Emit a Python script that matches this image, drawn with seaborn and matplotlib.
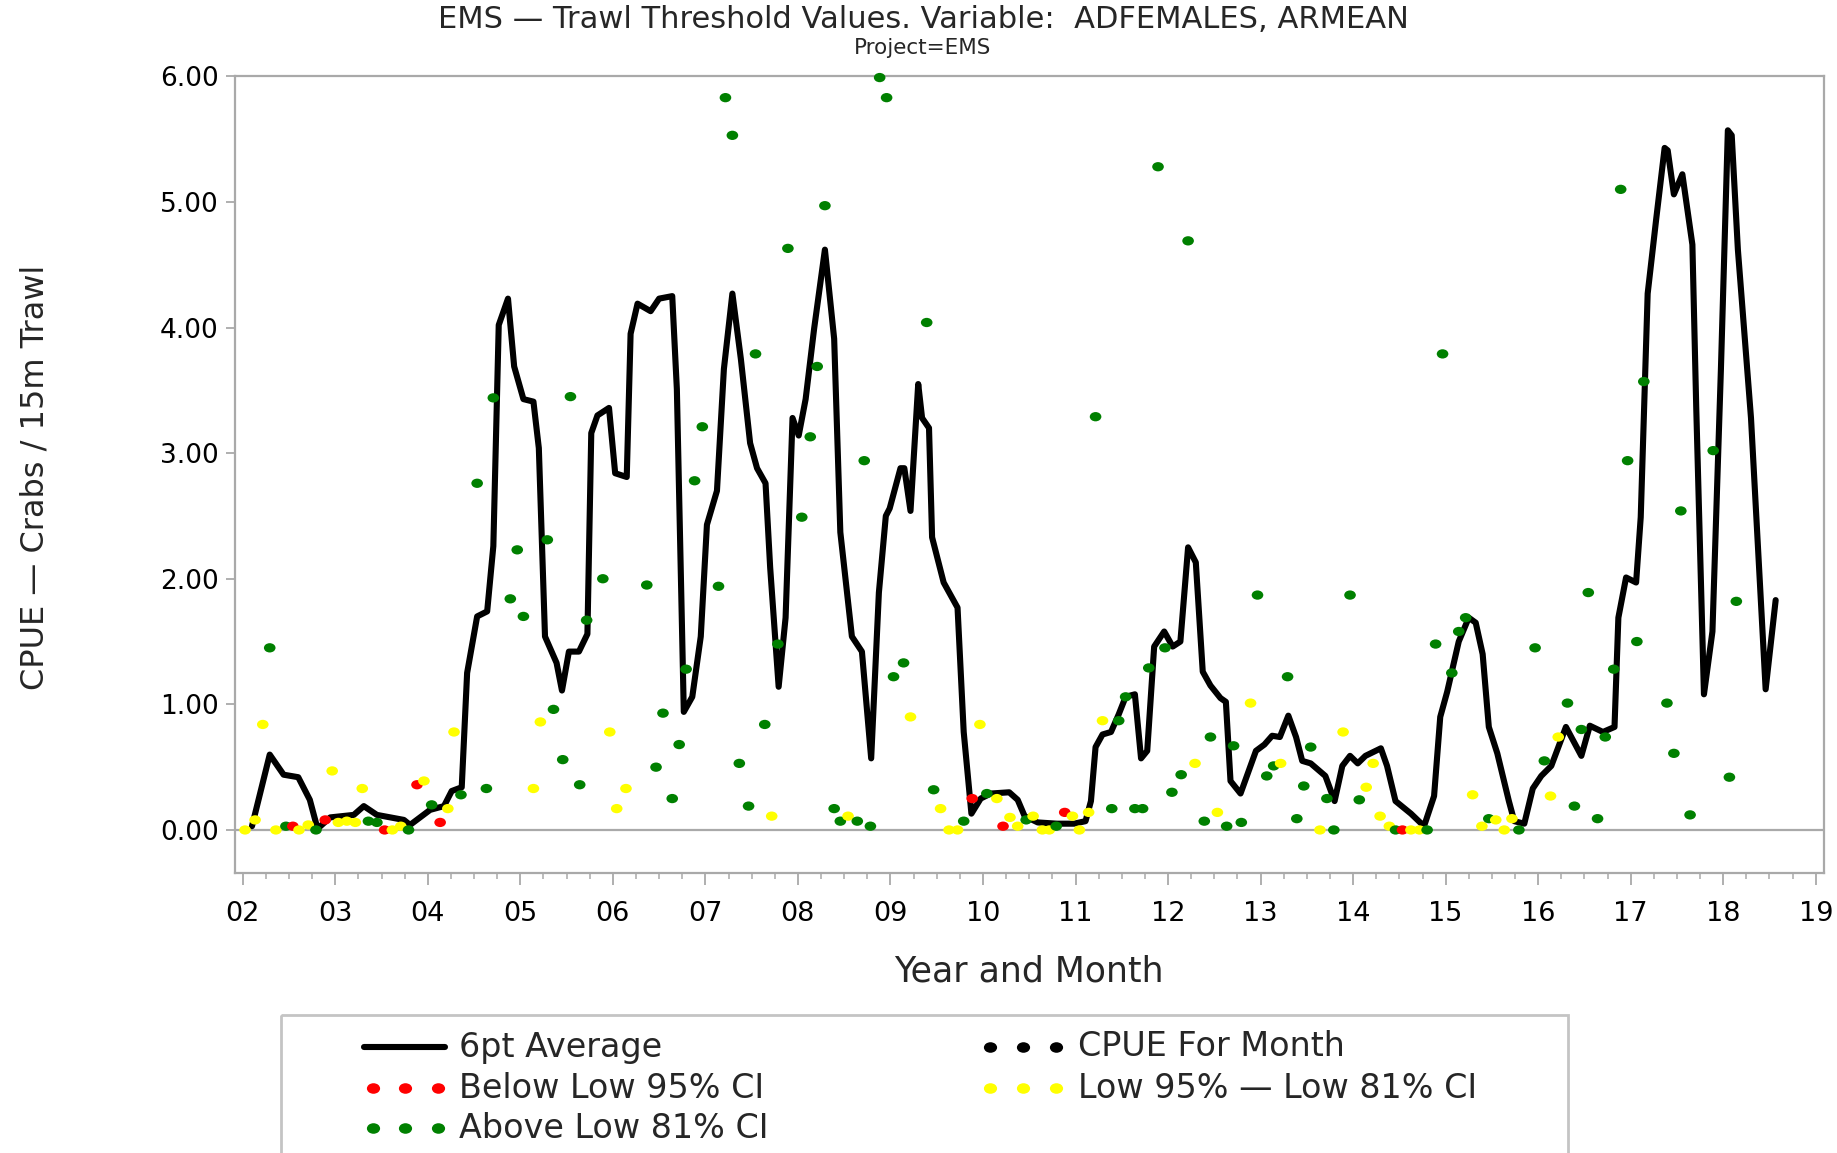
import numpy as np
import pandas as pd
import matplotlib
matplotlib.use("Agg")
import matplotlib.pyplot as plt
import seaborn as sns
from matplotlib.path import Path
from matplotlib.transforms import Affine2D
from matplotlib.patches import Rectangle
from matplotlib.ticker import MultipleLocator, FuncFormatter

sns.set_style("ticks")
plt.rcParams["font.family"] = ["DejaVu Sans"]

# ---- 6-point running average (months since Jan 2002, CPUE) ----
line_month = [1.2, 3.5, 5.3, 7.2, 8.7, 9.7, 11.35, 14.4, 15.7, 17.4, 20.9, 21.7,
              24.3, 26.1, 27.1, 28.4, 29.1, 30.4, 31.7, 32.5, 33.2, 34.4, 35.2,
              36.4, 37.7, 38.4, 39.2, 40.7, 41.4, 42.3, 43.6, 44.7, 45.2, 46.0,
              47.5, 48.3, 49.8, 50.3, 51.2, 52.9, 54.0, 55.7, 56.3, 57.2, 58.3,
              59.4, 60.2, 61.5, 62.4, 63.5, 64.6, 65.8, 66.7, 67.8, 68.4, 69.5,
              70.4, 71.3, 72.1, 73.0, 74.1, 75.5, 76.7, 77.5, 79.0, 80.3, 81.5,
              82.5, 83.4, 83.9, 85.3, 85.8, 86.6, 87.6, 88.1, 89.0, 89.4, 90.9,
              91.8, 92.7, 93.5, 94.5, 95.7, 97.0, 99.4, 100.5, 101.4, 103.1,
              105.6, 107.8, 109.3, 110.0, 110.6, 111.5, 112.6, 113.6, 114.5,
              115.7, 116.5, 117.3, 118.2, 119.5, 120.6, 121.6, 122.6, 123.6,
              124.5, 125.5, 126.8, 127.5, 128.1, 129.4, 131.4, 132.5, 133.5,
              134.5, 135.6, 136.6, 137.4, 138.5, 140.4, 141.6, 142.6, 143.6,
              144.6, 145.6, 147.6, 148.4, 149.5, 151.5, 153.2, 154.5, 155.3,
              156.2, 157.7, 159.0, 159.9, 160.8, 161.6, 162.7, 164.2, 164.9,
              166.2, 167.3, 168.4, 169.7, 171.6, 173.6, 174.7, 176.4, 177.9,
              178.4, 179.4, 180.7, 181.3, 182.2, 183.3, 184.4, 184.8, 185.6,
              186.7, 188.0, 188.5, 189.5, 190.6, 191.7, 192.6, 193.1, 193.9,
              195.6, 197.5, 198.8]
line_cpue = [0.03, 0.60, 0.44, 0.42, 0.24, 0.01, 0.10, 0.12, 0.19, 0.12, 0.08, 0.04,
             0.16, 0.19, 0.31, 0.34, 1.25, 1.70, 1.74, 2.26, 4.02, 4.23, 3.69,
             3.43, 3.41, 3.04, 1.54, 1.33, 1.11, 1.42, 1.42, 1.56, 3.16, 3.30,
             3.36, 2.84, 2.81, 3.95, 4.19, 4.13, 4.23, 4.25, 3.51, 0.94, 1.06,
             1.54, 2.43, 2.70, 3.67, 4.27, 3.75, 3.08, 2.88, 2.76, 2.09, 1.14,
             1.69, 3.28, 3.14, 3.43, 3.99, 4.62, 3.91, 2.37, 1.54, 1.42, 0.57,
             1.89, 2.50, 2.56, 2.88, 2.88, 2.54, 3.55, 3.28, 3.20, 2.33, 1.97,
             1.87, 1.77, 0.78, 0.13, 0.25, 0.29, 0.30, 0.24, 0.11, 0.06,
             0.05, 0.05, 0.07, 0.23, 0.66, 0.76, 0.78, 0.92, 1.06,
             1.08, 0.57, 0.63, 1.46, 1.58, 1.46, 1.50, 2.25, 2.13,
             1.26, 1.15, 1.05, 1.02, 0.39, 0.29, 0.63, 0.68, 0.75,
             0.74, 0.91, 0.74, 0.55, 0.53, 0.43, 0.23, 0.51, 0.59,
             0.53, 0.59, 0.65, 0.51, 0.23, 0.13, 0.03, 0.27, 0.90,
             1.10, 1.50, 1.69, 1.65, 1.40, 0.82, 0.61, 0.23, 0.07,
             0.05, 0.33, 0.43, 0.51, 0.82, 0.59, 0.83, 0.78, 0.82,
             1.69, 2.01, 1.97, 2.49, 4.27, 4.86, 5.43, 5.41, 5.06,
             5.22, 4.66, 3.36, 1.08, 1.58, 3.67, 5.57, 5.53, 4.62,
             3.28, 1.12, 1.83]

# ---- monthly CPUE, split by where it falls against the threshold limits ----
# below the low 95% CI
below95_month = [6.5, 10.7, 18.4, 22.6, 25.6, 94.6, 98.6, 106.6, 150.4]
below95_cpue = [0.03, 0.08, 0.00, 0.36, 0.06, 0.25, 0.03, 0.14, 0.00]

# between the low 95% and low 81% CI
between_month = [0.3, 1.6, 2.6, 4.3, 7.3, 8.5, 11.6, 12.4, 13.5, 14.6, 15.5,
                 19.4, 20.5, 23.5, 26.6, 27.4, 37.7, 38.6, 47.6, 48.5, 49.7,
                 68.6, 78.5, 86.6, 90.5, 91.6, 92.7, 95.6, 97.8, 99.5, 100.5,
                 102.5, 103.7, 104.6, 107.6, 108.5, 109.7, 111.5, 123.5, 126.4,
                 130.7, 134.6, 139.7, 142.7, 145.7, 146.6, 147.5, 148.7, 151.5,
                 152.6, 159.5, 160.7, 162.5, 163.6, 164.6, 169.6, 170.6]
between_cpue = [0.00, 0.08, 0.84, 0.00, 0.00, 0.04, 0.47, 0.06, 0.07, 0.06, 0.33,
                0.00, 0.03, 0.39, 0.17, 0.78, 0.33, 0.86, 0.78, 0.17, 0.33,
                0.11, 0.11, 0.90, 0.17, 0.00, 0.00, 0.84, 0.25, 0.10, 0.03,
                0.11, 0.00, 0.00, 0.11, 0.00, 0.14, 0.87, 0.53, 0.14,
                1.01, 0.53, 0.00, 0.78, 0.34, 0.53, 0.11, 0.03, 0.00,
                0.00, 0.28, 0.03, 0.08, 0.00, 0.09, 0.27, 0.74]

# above the low 81% CI
above81_month = [3.5, 5.6, 9.5, 16.3, 17.4, 21.5, 24.5, 28.3, 30.4, 31.6, 32.5,
                 34.7, 35.6, 36.4, 39.5, 40.3, 41.5, 42.5, 43.7, 44.6, 46.7,
                 52.4, 53.6, 54.5, 55.7, 56.6, 57.5, 58.6, 59.6, 61.7, 62.6,
                 63.5, 64.4, 65.6, 66.5, 67.7, 69.4, 70.7, 72.5, 73.6, 74.5,
                 75.5, 76.7, 77.5, 79.7, 80.6, 81.4, 82.6, 83.5, 84.4, 85.7,
                 88.7, 89.6, 93.5, 96.5, 101.6, 105.5, 110.6, 112.7, 113.6,
                 114.5, 115.7, 116.7, 117.5, 118.7, 119.6, 120.5, 121.7, 122.6,
                 124.7, 125.5, 127.6, 128.5, 129.5, 131.6, 132.8, 133.7, 135.5,
                 136.7, 137.6, 138.5, 140.6, 141.5, 143.6, 144.8, 149.5, 153.6,
                 154.7, 155.6, 156.8, 157.7, 158.6, 161.6, 165.5, 167.6, 168.8,
                 171.8, 172.7, 173.6, 174.5, 175.7, 176.7, 177.8, 178.7, 179.6,
                 180.8, 181.7, 184.7, 185.6, 186.5, 187.7, 190.7, 192.8, 193.7]
above81_cpue = [1.45, 0.03, 0.00, 0.07, 0.06, 0.00, 0.20, 0.28, 2.76, 0.33, 3.44,
                1.84, 2.23, 1.70, 2.31, 0.96, 0.56, 3.45, 0.36, 1.67, 2.00,
                1.95, 0.50, 0.93, 0.25, 0.68, 1.28, 2.78, 3.21, 1.94, 5.83,
                5.53, 0.53, 0.19, 3.79, 0.84, 1.48, 4.63, 2.49, 3.13, 3.69,
                4.97, 0.17, 0.07, 0.07, 2.94, 0.03, 5.99, 5.83, 1.22, 1.33,
                4.04, 0.32, 0.07, 0.29, 0.08, 0.03, 3.29, 0.17, 0.87,
                1.06, 0.17, 0.17, 1.29, 5.28, 1.45, 0.30, 0.44, 4.69,
                0.07, 0.74, 0.03, 0.67, 0.06, 1.87, 0.43, 0.51, 1.22,
                0.09, 0.35, 0.66, 0.25, 0.00, 1.87, 0.24, 0.00, 0.00,
                1.48, 3.79, 1.25, 1.58, 1.69, 0.09, 0.00, 1.45, 0.55,
                1.01, 0.19, 0.80, 1.89, 0.09, 0.74, 1.28, 5.10, 2.94,
                1.50, 3.57, 1.01, 0.61, 2.54, 0.12, 3.02, 0.42, 1.82]

year_ticks = list(range(2002, 2020))
year_labels = [f"{y % 100:02d}" for y in year_ticks]
cpue_ticks = [0, 1, 2, 3, 4, 5, 6]

LBL_BELOW = "Below Low 95% CI"
LBL_BETWEEN = "Low 95% \u2014 Low 81% CI"
LBL_ABOVE = "Above Low 81% CI"
class_colors = {LBL_BELOW: "#ff0000", LBL_BETWEEN: "#ffff00", LBL_ABOVE: "#008000"}

df_line = pd.DataFrame({"year": 2002 + np.array(line_month) / 12.0,
                        "cpue": line_cpue})
df_pts = pd.concat([
    pd.DataFrame({"month": below95_month, "cpue": below95_cpue, "limit": LBL_BELOW}),
    pd.DataFrame({"month": between_month, "cpue": between_cpue, "limit": LBL_BETWEEN}),
    pd.DataFrame({"month": above81_month, "cpue": above81_cpue, "limit": LBL_ABOVE}),
], ignore_index=True)
df_pts["year"] = 2002 + df_pts["month"] / 12.0
df_pts = df_pts.sort_values("month")

W, H = 1837, 1153
fig = plt.figure(figsize=(W / 100, H / 100), dpi=100)
ax = fig.add_axes([234.5 / W, 1 - 873.3 / H, (1824 - 234.5) / W, (873.3 - 76.3) / H])

gray = "#a9a9a9"
ax.axhline(0, color=gray, lw=1.6, zorder=1)

sns.lineplot(data=df_line, x="year", y="cpue", color="black", lw=4.4,
             sort=False, estimator=None, ax=ax, legend=False, zorder=2)

# slightly flattened dot, as on the original device
dot = Path.unit_circle().transformed(Affine2D().scale(1.0, 0.8))
sns.scatterplot(data=df_pts, x="year", y="cpue", hue="limit",
                palette=class_colors, marker=dot, s=70, linewidth=0,
                ax=ax, legend=False, zorder=3, clip_on=False)

ax.set_xlim(2001.911, 2019.089)
ax.set_ylim(-0.345, 6.0)
ax.set_xticks(year_ticks)
ax.set_xticklabels(year_labels)
ax.xaxis.set_minor_locator(MultipleLocator(0.25))
ax.set_yticks(cpue_ticks)
ax.yaxis.set_major_formatter(FuncFormatter(lambda v, p: f"{v:.2f}"))

for s in ax.spines.values():
    s.set_visible(True)
    s.set_color(gray)
    s.set_linewidth(1.6)

ax.tick_params(axis="y", which="major", direction="out", length=6.5, width=1.3,
               color=gray, labelsize=19, pad=5, labelcolor="black")
ax.tick_params(axis="x", which="major", direction="out", length=8.6, width=1.3,
               color=gray, labelsize=19.5, pad=11, labelcolor="black")
ax.tick_params(axis="x", which="minor", direction="out", length=4.3, width=1.1,
               color=gray)

ax.set_xlabel("Year and Month", fontsize=25, va="center")
ax.xaxis.set_label_coords(0.5, (873.3 - 972) / 797)
ax.set_ylabel("CPUE \u2014 Crabs / 15m Trawl", fontsize=23, va="center")
ax.yaxis.set_label_coords((35 - 234.5) / 1589.5, (873.3 - 477) / 797)

fig.text(923 / W, 1 - 19 / H,
         "EMS \u2014 Trawl Threshold Values. Variable:  ADFEMALES, ARMEAN",
         ha="center", va="center", fontsize=22)
fig.text(923 / W, 1 - 48 / H, "Project=EMS", ha="center", va="center",
         fontsize=15.5)

# ---- legend panel ----
lax = fig.add_axes([0, 0, 1, 1])
lax.set_xlim(0, W)
lax.set_ylim(H, 0)
lax.axis("off")
lax.add_patch(Rectangle((281, 1014.6), 1568 - 281, 200, fill=False,
                        ec="#c4c4c4", lw=2))
rows = [1047, 1088, 1128]
col1_dots = [372.6, 405.4, 438.2]
col2_dots = [990, 1023, 1055.6]
ms_leg = 9.5
fs_leg = 24
lax.plot([364, 445], [rows[0], rows[0]], color="black", lw=4.4)
lax.text(459, rows[0], "6pt Average", va="center", fontsize=fs_leg)
lax.plot(col1_dots, [rows[1]] * 3, ls="none", marker=dot, ms=ms_leg,
         mfc="#ff0000", mec="none")
lax.text(459, rows[1], LBL_BELOW, va="center", fontsize=fs_leg)
lax.plot(col1_dots, [rows[2]] * 3, ls="none", marker=dot, ms=ms_leg,
         mfc="#008000", mec="none")
lax.text(459, rows[2], LBL_ABOVE, va="center", fontsize=fs_leg)
lax.plot(col2_dots, [rows[0]] * 3, ls="none", marker=dot, ms=ms_leg,
         mfc="black", mec="none")
lax.text(1078, rows[0], "CPUE For Month", va="center", fontsize=fs_leg)
lax.plot(col2_dots, [rows[1]] * 3, ls="none", marker=dot, ms=ms_leg,
         mfc="#ffff00", mec="none")
lax.text(1078, rows[1], LBL_BETWEEN, va="center", fontsize=fs_leg)

fig.savefig("out.png", dpi=100)
